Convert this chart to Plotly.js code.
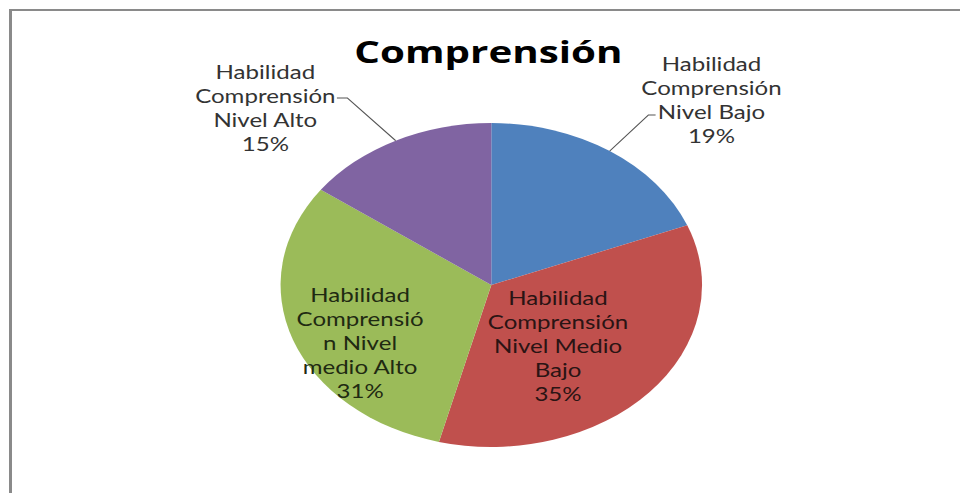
<!DOCTYPE html>
<html>
<head>
<meta charset="utf-8">
<script src="https://cdn.plot.ly/plotly-3.0.1.min.js"></script>
<style>
  html, body { margin: 0; padding: 0; background: #ffffff; overflow: hidden; }
  #wrap { position: relative; width: 960px; height: 493px; overflow: hidden; }
  #chart { width: 738px; height: 493px; transform: scaleX(1.3008); transform-origin: 0 0; }
  #frame { position: absolute; left: 9px; top: 9px; width: 1200px; height: 1200px;
           border-top: 2px solid #8a8a8a; border-left: 3px solid #8a8a8a; pointer-events: none; }
</style>
</head>
<body>
<div id="wrap"><div id="chart"></div><div id="frame"></div></div>
<script>
// ---- data ----
const categories = [
  'Habilidad Comprensión Nivel Bajo',
  'Habilidad Comprensión Nivel Medio Bajo',
  'Habilidad Comprensión Nivel medio Alto',
  'Habilidad Comprensión Nivel Alto'
];
const values = [19, 35, 31, 15];
const labelLines = [
  ['Habilidad', 'Comprensión', 'Nivel Bajo'],
  ['Habilidad', 'Comprensión', 'Nivel Medio', 'Bajo'],
  ['Habilidad', 'Comprensió', 'n Nivel', 'medio Alto'],
  ['Habilidad', 'Comprensión', 'Nivel Alto']
];
const colors = ['#4F81BD', '#C0504D', '#9BBB59', '#8064A2'];
const chartTitle = 'Comprensión';

// ---- layout geometry (inner, unscaled pixels) ----
const W = 738, H = 493;
const px = x => x / W;
const py = y => 1 - y / H;
const cx = 377.7, cy = 285, R = 162;
const labelPos = [[547, 100], [428.5, 345.5], [277, 343], [204, 108]];
const labelColors = ['#333333', '#2a1414', '#1f2a12', '#333333'];
// elbow tick near the outside labels: [start, end]
const ticks = {0: [[504, 115], [498.5, 115]], 3: [[259, 98], [267, 98]]};

const total = values.reduce((a, b) => a + b, 0);
let cum = 0;
const annotations = [];
const shapes = [];
values.forEach((v, i) => {
  const th = 2 * Math.PI * (cum + v / 2) / total;
  cum += v;
  const txt = labelLines[i].join('<br>') + '<br>' + v + '%';
  annotations.push({
    text: txt, showarrow: false,
    xref: 'paper', yref: 'paper',
    x: px(labelPos[i][0]), y: py(labelPos[i][1]),
    xanchor: 'center', yanchor: 'middle', align: 'center',
    font: {family: 'Lato, sans-serif', size: 18.5, color: labelColors[i]}
  });
  if (ticks[i]) {
    const ex = cx + R * Math.sin(th), ey = cy - R * Math.cos(th);
    const t = ticks[i];
    shapes.push({
      type: 'path', xref: 'paper', yref: 'paper',
      path: 'M ' + px(t[0][0]) + ' ' + py(t[0][1]) + ' L ' + px(t[1][0]) + ' ' + py(t[1][1]) +
            ' L ' + px(ex) + ' ' + py(ey),
      line: {color: '#555555', width: 1}
    });
  }
});

const trace = {
  type: 'pie',
  labels: categories,
  values: values,
  sort: false,
  direction: 'clockwise',
  rotation: 0,
  marker: {colors: colors, line: {width: 0}},
  textinfo: 'none',
  hoverinfo: 'label+percent',
  showlegend: false,
  domain: {x: [px(cx - R), px(cx + R)], y: [py(cy + R), py(cy - R)]}
};

const layout = {
  width: W, height: H,
  margin: {l: 0, r: 0, t: 0, b: 0},
  paper_bgcolor: '#ffffff',
  title: {
    text: '<b>' + chartTitle + '</b>',
    font: {family: 'Open Sans, sans-serif', size: 31, color: '#000000'},
    x: px(375.5), xanchor: 'center', y: 1 - 52 / H, yanchor: 'middle'
  },
  annotations: annotations,
  shapes: shapes
};

Plotly.newPlot('chart', [trace], layout, {displayModeBar: false, staticPlot: true});
</script>
</body>
</html>
